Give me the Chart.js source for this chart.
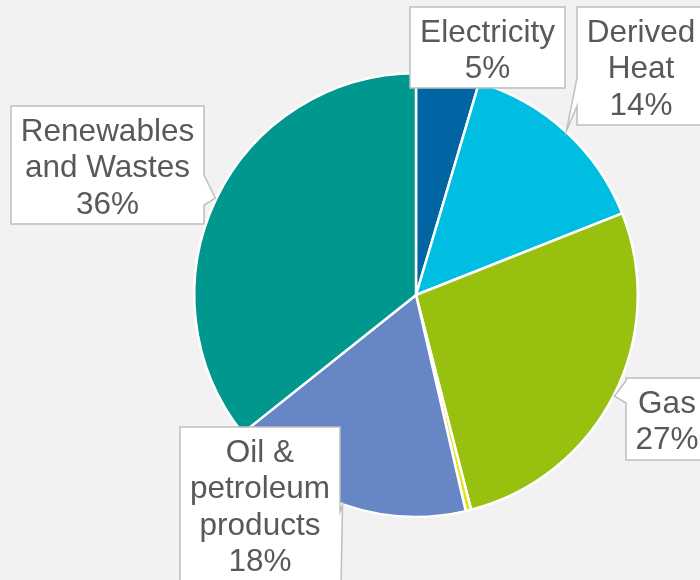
<!DOCTYPE html>
<html>
<head>
<meta charset="utf-8">
<script src="https://cdn.jsdelivr.net/npm/chart.js@4"></script>
<style>
  html, body { margin: 0; padding: 0; background: #f2f2f2; }
  canvas { display: block; }
</style>
</head>
<body>
<canvas id="pie" width="700" height="580"></canvas>
<script>
// ─── DATA ──────────────────────────────────
const categories = [
  ['Electricity'],
  ['Derived', 'Heat'],
  ['Gas'],
  ['Solid fossil fuels'],
  ['Oil &', 'petroleum', 'products'],
  ['Renewables', 'and Wastes'],
];
const shares = [4.6, 14.4, 27.0, 0.4, 17.9, 35.7];
const sliceColors = ['#0065a2', '#00bde2', '#97c00f', '#e4e41a', '#6786c5', '#00978f'];
const showLabel = [true, true, true, false, true, true];

// callout boxes (layout only): x, y, w, h, which side the pointer leaves from, and its base span
const callouts = [
  { x: 410, y: 7,   w: 155, h: 81,  side: null },
  { x: 577, y: 7,   w: 128, h: 118, side: 'left',  b1: 78,  b2: 106 },
  { x: 626, y: 378, w: 82,  h: 82,  side: 'left',  b1: 381, b2: 403 },
  null,
  { x: 180, y: 427, w: 160, h: 170, side: 'right', b1: 512, b2: 640 },
  { x: 11,  y: 106, w: 193, h: 118, side: 'right', b1: 175, b2: 205 },
];

const FONT = '31.5px "Liberation Sans", Arial, sans-serif';
const LINE_H = 36.5;

function pct(v) {
  const total = shares.reduce((a, b) => a + b, 0);
  return Math.round(v / total * 100) + '%';
}

function drawCallout(ctx, c, tip) {
  const { x, y, w, h } = c;
  ctx.beginPath();
  ctx.moveTo(x, y);
  ctx.lineTo(x + w, y);
  if (c.side === 'right') {
    ctx.lineTo(x + w, c.b1);
    ctx.lineTo(tip.x, tip.y);
    ctx.lineTo(x + w, c.b2);
  }
  ctx.lineTo(x + w, y + h);
  ctx.lineTo(x, y + h);
  if (c.side === 'left') {
    ctx.lineTo(x, c.b2);
    ctx.lineTo(tip.x, tip.y);
    ctx.lineTo(x, c.b1);
  }
  ctx.closePath();
  ctx.fillStyle = '#ffffff';
  ctx.fill();
  ctx.strokeStyle = '#bfbfbf';
  ctx.lineWidth = 1.5;
  ctx.stroke();
}

const calloutPlugin = {
  id: 'callouts',
  afterDatasetsDraw(chart) {
    const ctx = chart.ctx;
    const meta = chart.getDatasetMeta(0);
    ctx.save();
    meta.data.forEach((arc, i) => {
      const c = callouts[i];
      if (!showLabel[i] || !c) return;
      const p = arc.getProps(['x', 'y', 'startAngle', 'endAngle', 'outerRadius'], true);
      const mid = (p.startAngle + p.endAngle) / 2;
      const tip = { x: p.x + Math.cos(mid) * (p.outerRadius + 1), y: p.y + Math.sin(mid) * (p.outerRadius + 1) };
      drawCallout(ctx, c, tip);

      const lines = categories[i].concat([pct(shares[i])]);
      ctx.fillStyle = '#595959';
      ctx.font = FONT;
      ctx.textAlign = 'center';
      ctx.textBaseline = 'middle';
      const cx = c.x + c.w / 2;
      let ty = c.y + 8 + LINE_H / 2;
      lines.forEach(t => { ctx.fillText(t, cx, ty); ty += LINE_H; });
    });
    ctx.restore();
  }
};

new Chart(document.getElementById('pie').getContext('2d'), {
  type: 'pie',
  data: {
    labels: categories,
    datasets: [{
      data: shares,
      backgroundColor: sliceColors,
      borderColor: '#ffffff',
      borderWidth: 2.5,
    }]
  },
  options: {
    responsive: false,
    animation: false,
    layout: { padding: { top: 72, bottom: 62, left: 193, right: 61 } },
    plugins: {
      legend: { display: false },
      tooltip: { enabled: false },
    }
  },
  plugins: [calloutPlugin]
});
</script>
</body>
</html>
